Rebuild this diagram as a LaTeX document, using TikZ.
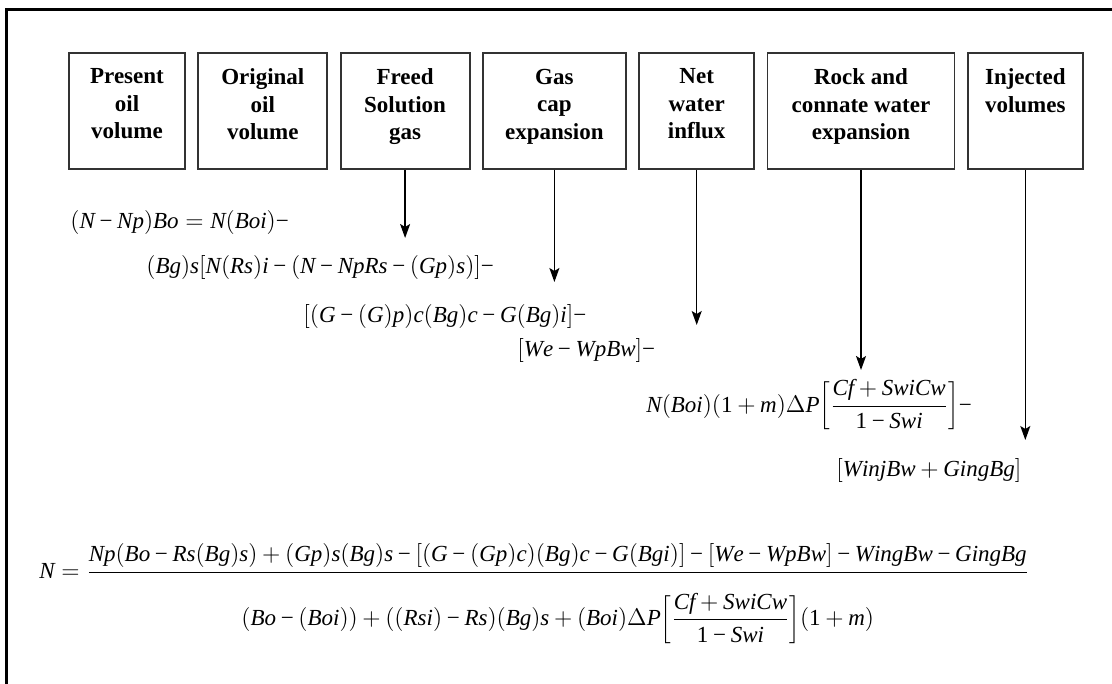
\documentclass[tikz,border=0pt]{standalone}
\usepackage{fontspec}
\setmainfont{Liberation Serif}
\usetikzlibrary{positioning, arrows.meta}

% label text inside a box, set from the top
\newcommand{\lbl}[2]{\parbox[c][58pt][t]{#1}{\centering\vspace*{7.9pt}#2}}
% Times-like minus and tighter spacing in the formulas
\AtBeginDocument{\Umathcode`\-="2 \symoperators "2212 \medmuskip=3.5mu plus 1mu minus 2mu}

\begin{document}
\begin{tikzpicture}[
    x=0.5pt, y=-0.5pt,
    box/.style={draw=black!80, line width=0.9pt, inner sep=0pt, minimum height=58pt,
      font=\fontsize{11.5}{13.75}\selectfont\bfseries},
    line/.style={draw, line width=0.7pt, -{Stealth[length=7pt, width=5pt, inset=1.5pt]}},
    eq/.style={anchor=west, inner sep=0pt, font=\fontsize{11.5}{14}\selectfont}
  ]
    \useasboundingbox (0,0) rectangle (1112,684);
    % frame (top and left side only)
    \draw[line width=1.5pt] (6,684) -- (6,10) -- (1112,10);

    % term boxes
    \node[box, minimum width=58pt] (pres) at (127,111) {\lbl{58pt}{Present\\oil\\volume}};
    \node[box, minimum width=64.5pt, right=5.75pt of pres] (orig) {\lbl{64.5pt}{Original\\oil\\volume}};
    \node[box, minimum width=64.5pt, right=5.75pt of orig] (freed) {\lbl{64.5pt}{Freed\\Solution\\gas}};
    \node[box, minimum width=71.5pt, right=5.75pt of freed] (gascap) {\lbl{71.5pt}{Gas\\cap\\expansion}};
    \node[box, minimum width=57.5pt, right=5.75pt of gascap] (water) {\lbl{57.5pt}{Net\\water\\influx}};
    \node[box, minimum width=93.5pt, right=5.75pt of water] (rock) {\lbl{93.5pt}{Rock and\\connate water\\expansion}};
    \node[box, minimum width=57.5pt, right=5.75pt of rock] (inj) {\lbl{57.5pt}{Injected\\volumes}};

    % material balance, term by term
    \node[eq] (r1) at (70,222) {$\mathit{(N - Np)Bo} = \mathit{N(Boi)}-$};
    \node[eq] (r2) at (146,267) {$\mathit{(Bg)s[N(Rs)i - (N - NpRs - (Gp)s)]}-$};
    \node[eq] (r3) at (303,316) {$\mathit{[(G - (G)p)c(Bg)c - G(Bg)i]}-$};
    \node[eq] (r4) at (517,350) {$\mathit{[We - WpBw]}-$};
    \node[eq, anchor=base west] (r5) at (646,412) {$\displaystyle \mathit{N(Boi)}(\mathrm{1} + \mathit{m})\Delta \mathit{P}
      \biggl[\frac{\mathit{Cf + SwiCw}}{\mathrm{1} - \mathit{Swi}}\biggr]-$};
    \node[eq] (r6) at (836,470) {$\mathit{[WinjBw + GingBg]}$};

    % arrows from the boxes to their terms
    \coordinate (freedTip) at (freed.south |- 0,238);
    \coordinate (gascapTip) at (gascap.south |- 0,282);
    \coordinate (waterTip) at (water.south |- 0,325);
    \coordinate (rockTip) at (rock.south |- 0,370);
    \coordinate (injTip) at (inj.south |- 0,440);
    \draw[line] (freed.south) -- (freedTip);
    \draw[line] (gascap.south) -- (gascapTip);
    \draw[line] (water.south) -- (waterTip);
    \draw[line] (rock.south) -- (rockTip);
    \draw[line] (inj.south) -- (injTip);

    % solved for N
    \node[eq, anchor=base west] (solN) at (39,578) {$\displaystyle \mathit{N} = \frac{\mathit{Np(Bo - Rs(Bg)s) + (Gp)s(Bg)s - [(G - (Gp)c)(Bg)c - G(Bgi)] - [We - WpBw] - WingBw - GingBg}}
      {\displaystyle \rule{0pt}{25.5pt}\mathit{(Bo - (Boi)) + ((Rsi) - Rs)(Bg)s + (Boi)}\Delta \mathit{P}\biggl[\frac{\mathit{Cf + SwiCw}}{\mathrm{1} - \mathit{Swi}}\biggr](\mathrm{1} + \mathit{m})}$};
  \end{tikzpicture}
\end{document}
